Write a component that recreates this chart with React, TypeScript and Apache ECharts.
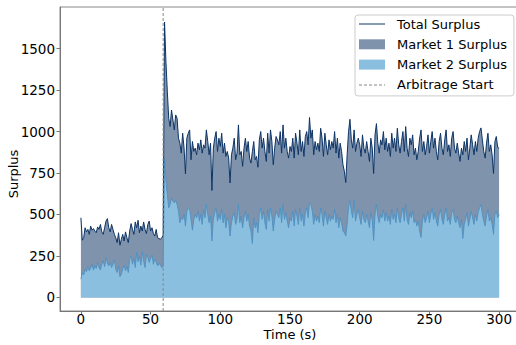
import React, { useEffect, useRef } from "react";
import * as echarts from "echarts";

const timeStart = 0;
const arbitrageStart = 59;

const totalPhase1 = [
  480, 345, 360, 420, 395, 410, 380, 430, 405, 415,
  400, 390, 425, 410, 440, 395, 380, 420, 460, 475,
  420, 395, 440, 410, 380, 360, 330, 390, 315, 350,
  380, 340, 395, 360, 330, 400, 445, 410, 380, 455,
  420, 465, 390, 430, 400, 455, 410, 385, 440, 460,
  400, 420, 385, 370, 410, 360, 355, 350, 360, 375,
];
const totalPhase2 = [
  1660, 1420, 1240, 1080, 1030, 1130, 1070, 1010, 1100, 1080,
  960, 930, 870, 990, 900, 745, 960, 990, 1010, 830,
  940, 880, 900, 860, 930, 890, 950, 870, 920, 900,
  1010, 940, 860, 930, 645, 900, 960, 1000, 880, 960,
  910, 990, 870, 930, 850, 880, 840, 690, 860, 900,
  960, 830, 870, 1040, 860, 880, 790, 900, 960, 880,
  940, 840, 810, 880, 940, 830, 850, 785, 950, 1000,
  900, 960, 880, 820, 990, 870, 1010, 940, 800, 900,
  970, 950, 920, 1000, 870, 1040, 900, 960, 880, 840,
  910, 880, 960, 840, 990, 930, 860, 1010, 880, 940,
  850, 970, 1000, 920, 1085, 960, 1010, 860, 940, 890,
  930, 880, 1020, 960, 850, 990, 920, 860, 950, 890,
  940, 900, 1000, 870, 960, 840, 930, 880, 800, 760,
  693, 860, 1000, 1074, 950, 900, 1010, 880, 930, 960,
  920, 850, 980, 900, 870, 940, 880, 820, 960, 900,
  747, 980, 1048, 930, 870, 950, 920, 1000, 890, 960,
  880, 930, 850, 990, 900, 960, 880, 1020, 920, 870,
  940, 1000, 880, 1030, 900, 850, 960, 920, 980, 860,
  900, 830, 880, 960, 1010, 880, 940, 860, 910, 980,
  870, 940, 1000, 900, 960, 880, 830, 940, 990, 900,
  860, 950, 1010, 880, 920, 850, 960, 1000, 900, 870,
  930, 870, 820, 900, 860, 940, 880, 960, 830, 900,
  980, 920, 860, 940, 880, 960, 1000, 1022, 950, 880,
  840, 930, 990, 880, 920, 860, 747, 940, 970, 904,
  900,
];

const market2Phase1 = [
  110, 150, 135, 170, 155, 185, 160, 175, 200, 165,
  190, 175, 210, 180, 165, 200, 220, 185, 240, 205,
  190, 210, 180, 200, 225, 170, 150, 190, 125, 140,
  170, 195, 160, 185, 150, 230, 250, 200, 235, 180,
  270, 215, 250, 195, 275, 220, 180, 260, 240, 210,
  235, 255, 200, 230, 215, 190, 205, 195, 180, 185,
];
const market2Phase2 = [
  840, 700, 620, 540, 560, 600, 580, 570, 585, 560,
  520, 450, 480, 470, 500, 430, 520, 540, 530, 470,
  405, 470, 500, 480, 520, 460, 500, 440, 530, 480,
  560, 500, 450, 490, 340, 470, 510, 540, 460, 500,
  470, 530, 450, 500, 420, 480, 460, 370, 450, 490,
  510, 440, 470, 560, 450, 490, 420, 480, 520, 460,
  500, 430, 400, 325, 480, 420, 450, 390, 500, 540,
  470, 520, 450, 410, 530, 460, 540, 490, 400, 470,
  520, 500, 480, 540, 450, 560, 470, 510, 460, 420,
  480, 460, 520, 430, 530, 490, 440, 540, 460, 500,
  430, 510, 540, 480, 572, 560, 520, 440, 500, 460,
  490, 450, 540, 500, 430, 520, 480, 440, 500, 460,
  490, 470, 530, 450, 500, 420, 480, 450, 400, 390,
  370, 440, 540, 584, 520, 480, 584, 460, 500, 530,
  480, 440, 520, 470, 450, 500, 460, 420, 510, 470,
  343, 500, 560, 490, 450, 500, 480, 530, 460, 510,
  460, 490, 440, 530, 470, 500, 450, 540, 480, 450,
  500, 540, 460, 560, 470, 440, 510, 480, 520, 450,
  470, 430, 460, 400, 361, 460, 500, 450, 480, 520,
  450, 500, 540, 470, 510, 460, 430, 500, 530, 470,
  440, 500, 540, 460, 480, 440, 510, 530, 470, 450,
  490, 450, 420, 470, 355, 440, 470, 510, 430, 470,
  520, 480, 440, 500, 460, 510, 540, 560, 500, 460,
  430, 490, 530, 460, 480, 440, 380, 500, 520, 480,
  500,
];

const xTicks = [0, 50, 100, 150, 200, 250, 300];
const yTicks = [0, 250, 500, 750, 1000, 1250, 1500];

const totalSurplus = [...totalPhase1, ...totalPhase2];
const market2Surplus = [...market2Phase1, ...market2Phase2];
const market1Surplus = totalSurplus.map((v, i) => v - market2Surplus[i]);
const times = totalSurplus.map((_, i) => timeStart + i);
// top edge of the Market 1 band = Market 2 + Market 1 (stacked)
const market1Top = market1Surplus.map((v, i) => v + market2Surplus[i]);

const FONT = "DejaVu Sans";
const Y_MIN = -82;
const Y_MAX = 1751;

export default function App() {
  const ref = useRef<HTMLDivElement>(null);
  useEffect(() => {
    if (!ref.current) return;
    const chart = echarts.init(ref.current, null, { renderer: "svg" });
    const axisColor = "#777";
    const lineIcon = "path://M0,4.5H26V5.5H0Z";
    const dashIcon = "path://M0,4.5H3V5.5H0ZM5,4.5H8V5.5H5ZM10,4.5H13V5.5H10ZM15,4.5H18V5.5H15ZM20,4.5H23V5.5H20ZM25,4.5H26V5.5H25Z";
    chart.setOption({
      animation: false,
      textStyle: { fontFamily: FONT },
      grid: {
        left: 60,
        top: 7,
        right: -4,
        bottom: 34,
        show: true,
        borderColor: "#888",
        borderWidth: 1,
        outerBoundsMode: "none",
        containLabel: false,
      },
      legend: {
        orient: "vertical",
        left: 355,
        top: 15,
        padding: [2, 7, 4, 4],
        itemWidth: 26,
        itemHeight: 10,
        itemGap: 6.3,
        borderColor: "#cccccc",
        borderWidth: 1,
        borderRadius: 3,
        backgroundColor: "rgba(255,255,255,0.85)",
        textStyle: { fontSize: 13, color: "#000", fontFamily: FONT, lineHeight: 14, padding: [0, 0, 0, 7] },
        data: [
          { name: "Total Surplus", icon: lineIcon, itemStyle: { color: "#0d3465" } },
          { name: "Market 1 Surplus", icon: "rect" },
          { name: "Market 2 Surplus", icon: "rect" },
          { name: "Arbitrage Start", icon: dashIcon, itemStyle: { color: "#888" } },
        ],
      },
      xAxis: {
        type: "value",
        min: -15,
        max: 315,
        name: "Time (s)",
        nameLocation: "middle",
        nameGap: 16,
        nameMoveOverlap: false,
        nameTextStyle: { fontSize: 13, color: "#000", fontFamily: FONT, verticalAlign: "top", lineHeight: 14 },
        splitLine: { show: false },
        axisLine: { show: true, onZero: false, lineStyle: { color: axisColor } },
        axisTick: { show: true, length: 3.5, customValues: xTicks, lineStyle: { color: axisColor } },
        axisLabel: {
          customValues: xTicks,
          fontSize: 13.5,
          lineHeight: 14,
          color: "#000",
          margin: 1,
          fontFamily: FONT,
          formatter: (v: number) => String(v),
        },
      },
      yAxis: {
        type: "value",
        min: Y_MIN,
        max: Y_MAX,
        name: "Surplus",
        nameLocation: "middle",
        nameGap: 40,
        nameMoveOverlap: false,
        nameTextStyle: {
          fontSize: 13,
          color: "#000",
          fontFamily: FONT,
          verticalAlign: "bottom",
          padding: [0, 30, 0, 0],
        },
        splitLine: { show: false },
        axisLine: { show: true, onZero: false, lineStyle: { color: axisColor } },
        axisTick: { show: true, length: 3.5, customValues: yTicks, lineStyle: { color: axisColor } },
        axisLabel: {
          customValues: yTicks,
          fontSize: 13.5,
          color: "#000",
          margin: 5,
          fontFamily: FONT,
          formatter: (v: number) => String(v),
        },
      },
      series: [
        {
          name: "Market 1 Surplus",
          type: "line",
          symbol: "none",
          data: times.map((t, i) => [t, market1Top[i]]),
          itemStyle: { color: "#7f93ad" },
          lineStyle: { width: 0, color: "#7f93ad" },
          areaStyle: { color: "#7f93ad", opacity: 1, origin: 0 },
          z: 2,
        },
        {
          name: "Market 2 Surplus",
          type: "line",
          symbol: "none",
          data: times.map((t, i) => [t, market2Surplus[i]]),
          itemStyle: { color: "#8bbfdf" },
          lineStyle: { color: "#4a8ec2", width: 0.8 },
          areaStyle: { color: "#8bbfdf", opacity: 1, origin: 0 },
          z: 3,
        },
        {
          name: "Total Surplus",
          type: "line",
          symbol: "none",
          data: times.map((t, i) => [t, totalSurplus[i]]),
          itemStyle: { color: "#0d3465" },
          lineStyle: { color: "#0d3465", width: 1 },
          z: 4,
        },
        {
          name: "Arbitrage Start",
          type: "line",
          symbol: "none",
          data: [
            [arbitrageStart, Y_MIN],
            [arbitrageStart, Y_MAX],
          ],
          itemStyle: { color: "#888" },
          lineStyle: { color: "#888", width: 1, type: [3, 2] },
          z: 5,
          silent: true,
        },
      ],
    });
    return () => chart.dispose();
  }, []);
  return (
    <div
      ref={ref}
      style={{ position: "absolute", left: 0, top: 0, width: 516, height: 345 }}
    />
  );
}
